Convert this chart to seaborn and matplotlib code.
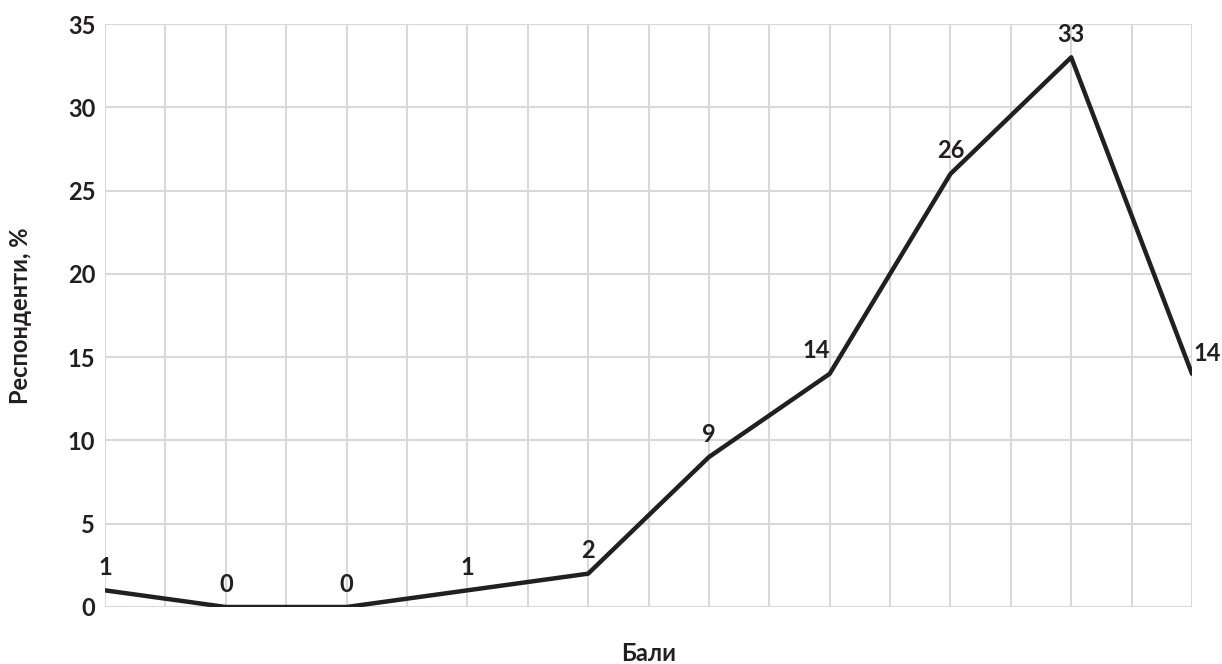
import matplotlib
matplotlib.use("Agg")
import matplotlib.pyplot as plt
from matplotlib.ticker import MultipleLocator
import seaborn as sns
import pandas as pd

# Score positions (no labels on the x axis) and share of respondents, %
scores = list(range(10))
respondents = [1, 0, 0, 1, 2, 9, 14, 26, 33, 14]
y_ticks = [0, 5, 10, 15, 20, 25, 30, 35]

sns.set_theme(style="white")
plt.rcParams["font.family"] = ["Lato", "DejaVu Sans"]
plt.rcParams["font.weight"] = "bold"

INK = "#231f20"
FS = 17

df = pd.DataFrame({"score": scores, "pct": respondents})

fig = plt.figure(figsize=(12.22, 6.64), dpi=100)
ax = fig.add_axes([105 / 1222, 57 / 664, (1192 - 105) / 1222, (607 - 24) / 664])

sns.lineplot(data=df, x="score", y="pct", ax=ax, color=INK,
             linewidth=3.2, zorder=3)

ax.set_xlim(scores[0], scores[-1])
ax.set_ylim(0, 35)
ax.set_yticks(y_ticks)
ax.xaxis.set_major_locator(MultipleLocator(0.5))
ax.tick_params(axis="x", labelbottom=False, length=0)
ax.tick_params(axis="y", length=0, pad=7, labelsize=FS, labelcolor=INK)
for lbl in ax.get_yticklabels():
    lbl.set_fontweight("bold")

ax.grid(True, color="#d9d9d9", linewidth=1.5)
for s in ax.spines.values():
    s.set_visible(False)
ax.set_axisbelow(True)

ax.set_xlabel("Бали", fontsize=FS, fontweight="bold", color=INK, labelpad=25)
ax.set_ylabel("Респонденти, %", fontsize=FS, fontweight="bold", color=INK, labelpad=26)

# Value labels above each point; the last one sits to the right
for i, (x, v) in enumerate(zip(scores, respondents)):
    if i == len(scores) - 1:
        ax.annotate(str(v), (x, v), xytext=(15, 20), textcoords="offset pixels",
                    ha="center", va="center", fontsize=FS, fontweight="bold",
                    color=INK, annotation_clip=False)
    else:
        dx = -13 if i == 6 else 0
        ax.annotate(str(v), (x, v), xytext=(dx, 23), textcoords="offset pixels",
                    ha="center", va="center", fontsize=FS, fontweight="bold",
                    color=INK, annotation_clip=False)

fig.savefig("out.png", dpi=100, facecolor="white")
